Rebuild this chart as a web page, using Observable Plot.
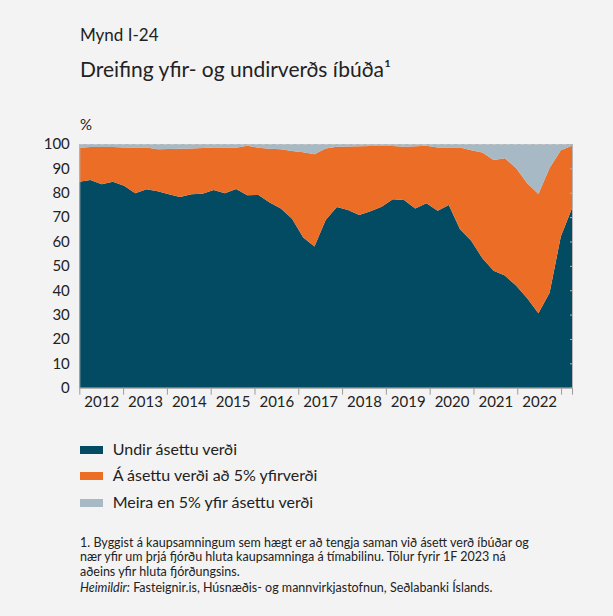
<!DOCTYPE html>
<html>
<head>
<meta charset="utf-8">
<script src="https://cdn.jsdelivr.net/npm/d3@7"></script>
<script src="https://cdn.jsdelivr.net/npm/@observablehq/plot@0.6"></script>
<style>
  html, body { margin: 0; padding: 0; background: #f3f3f3; }
  #page { position: relative; width: 613px; height: 616px; background: #f3f3f3; font-family: Lato, "Open Sans", sans-serif; color: #222; overflow: hidden; }
  .t { position: absolute; line-height: 1; white-space: nowrap; }
  #chart { position: absolute; left: 0; top: 110px; }
  .sw { position: absolute; width: 23px; height: 8px; }
</style>
</head>
<body>
<div id="page">
  <div class="t" style="left:80px; top:25.6px; font-size:17px;">Mynd I-24</div>
  <div class="t" style="left:80px; top:58px; font-size:21px;">Dreifing yfir- og undirverðs íbúða¹</div>
  <div class="t" style="left:80px; top:117px; font-size:15px;">%</div>
  <div id="chart"></div>
  <div id="legend"></div>
  <div class="t" style="left:80px; top:535.6px; font-size:12.5px; line-height:14.6px; white-space:normal; width:520px;">1. Byggist á kaupsamningum sem hægt er að tengja saman við ásett verð íbúðar og<br>nær yfir um þrjá fjórðu hluta kaupsamninga á tímabilinu. Tölur fyrir 1F 2023 ná<br>aðeins yfir hluta fjórðungsins.</div>
  <div class="t" style="left:80px; top:581.6px; font-size:12.5px;"><i>Heimildir:</i> Fasteignir.is, Húsnæðis- og mannvirkjastofnun, Seðlabanki Íslands.</div>
</div>
<script>
// Quarterly data, 2012Q1 – 2023Q1 (share of purchase contracts, %)
const quarters = d3.range(45).map(i => `${2012 + Math.floor(i / 4)}Q${(i % 4) + 1}`);
const under = [84.5, 85.2, 83.5, 84.5, 82.9, 79.8, 81.4, 80.6, 79.4, 78.3, 79.4, 79.6, 81.1, 79.8, 81.5,
  79.0, 79.1, 76.0, 73.5, 69.3, 61.6, 57.9, 68.8, 74.1, 72.9, 70.9, 72.4, 74.3, 77.3, 77.0,
  73.5, 75.7, 72.6, 75.0, 65.0, 60.3, 53.1, 48.0, 46.0, 41.9, 36.7, 30.5, 39.0, 62.0, 73.6];
const atPrice = [14.0, 13.6, 15.3, 14.3, 15.7, 18.8, 17.2, 17.2, 18.5, 19.7, 18.8, 18.8, 17.5, 18.8, 17.0,
  20.3, 19.4, 22.0, 24.3, 27.8, 35.0, 37.9, 29.4, 24.8, 26.1, 28.2, 26.8, 24.9, 21.9, 21.9,
  25.6, 23.6, 26.0, 23.6, 33.6, 37.1, 43.4, 45.4, 48.2, 48.3, 47.2, 49.0, 51.2, 35.4, 25.7];
const above = [1.5, 1.2, 1.2, 1.2, 1.4, 1.4, 1.4, 2.2, 2.1, 2.0, 1.8, 1.6, 1.4, 1.4, 1.5,
  0.7, 1.5, 2.0, 2.2, 2.9, 3.4, 4.2, 1.8, 1.1, 1.0, 0.9, 0.8, 0.8, 0.8, 1.1,
  0.9, 0.7, 1.4, 1.4, 1.4, 2.6, 3.5, 6.6, 5.8, 9.8, 16.1, 20.5, 9.8, 2.6, 0.7];
const seriesNames = ["Undir ásettu verði", "Á ásettu verði að 5% yfirverði", "Meira en 5% yfir ásettu verði"];
const seriesColors = ["#034b63", "#ec6d26", "#a6b9c4"];
const yearLabels = ["2012", "2013", "2014", "2015", "2016", "2017", "2018", "2019", "2020", "2021", "2022"];
const yTicks = [0, 10, 20, 30, 40, 50, 60, 70, 80, 90, 100];

// Horizontal axis: year units; the 45 quarterly points span 11.25 axis-years
const xStart = 2012, xEnd = 2023.25;
const xOf = i => xStart + i * (xEnd - xStart) / (quarters.length - 1);
const yearTicks = yearLabels.map(Number).concat([2023, xEnd]);

const seriesValues = [under, atPrice, above];
const rows = [];
quarters.forEach((q, i) => {
  seriesNames.forEach((s, k) => rows.push({q, t: xOf(i), series: s, value: seriesValues[k][i]}));
});

const plot = Plot.plot({
  width: 613,
  height: 310,
  marginLeft: 79.3,
  marginRight: 41,
  marginTop: 34,
  marginBottom: 32.3,
  style: {background: "transparent", fontFamily: "Lato, 'Open Sans', sans-serif", fontSize: "15px", color: "#222", overflow: "visible"},
  x: {domain: [xStart, xEnd], label: null},
  y: {domain: [0, 100], label: null},
  color: {domain: seriesNames, range: seriesColors},
  marks: [
    Plot.areaY(rows, {x: "t", y: "value", fill: "series", z: "series"}),
    Plot.ruleY([100], {stroke: "#c4c4c4", strokeDasharray: "4,3", strokeWidth: 1.2}),
    Plot.ruleY([0], {stroke: "#9c9c9c"}),
    Plot.ruleX([xStart], {y1: 0, y2: 100, stroke: "#b5b5b5"}),
    Plot.ruleX([xEnd], {y1: 0, y2: 100, stroke: "#b5b5b5"}),
    Plot.ruleY(yTicks, {x1: xEnd - 0.045, x2: xEnd, stroke: "#b5b5b5"}),
    Plot.axisX(yearTicks, {tickSize: 7, tickFormat: () => "", stroke: "#9c9c9c", label: null}),
    Plot.axisX(yearLabels.map(y => +y + 0.5), {tickSize: 0, tickPadding: 8, tickFormat: d => String(Math.floor(d)), fill: "#222", fontSize: 15, label: null}),
    Plot.axisY(yTicks, {tickSize: 0, tickPadding: 10, fill: "#222", fontSize: 15, label: null})
  ]
});
document.getElementById("chart").appendChild(plot);

// Legend
const legend = document.getElementById("legend");
seriesNames.forEach((s, k) => {
  const top = 445.5 + k * 26.5;
  const sw = document.createElement("div");
  sw.className = "sw";
  sw.style.left = "80px";
  sw.style.top = top + "px";
  sw.style.background = seriesColors[k];
  legend.appendChild(sw);
  const tx = document.createElement("div");
  tx.className = "t";
  tx.style.left = "112.7px";
  tx.style.fontSize = "16px";
  tx.style.top = (455 + k * 26.5 - 0.887 * 16) + "px";
  tx.textContent = s;
  legend.appendChild(tx);
});
</script>
</body>
</html>
